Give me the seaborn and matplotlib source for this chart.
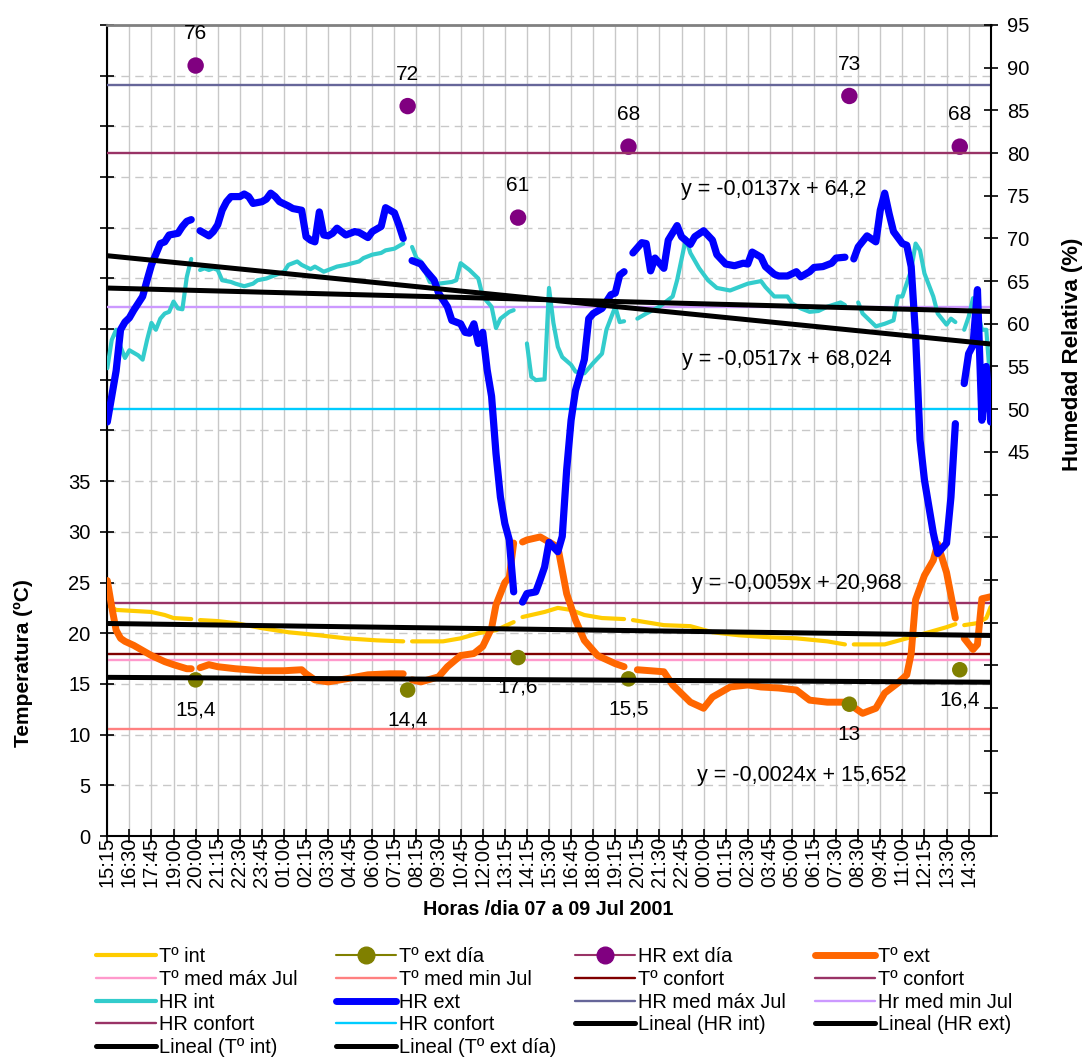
import numpy as np
import pandas as pd
import matplotlib
matplotlib.use("Agg")
import matplotlib.pyplot as plt
from matplotlib.lines import Line2D
import seaborn as sns

nan = np.nan

# ---------------- data ----------------
N_SLOTS = 201
time_labels = ['15:15', '16:30', '17:45', '19:00', '20:00', '21:15', '22:30', '23:45',
               '01:00', '02:15', '03:30', '04:45', '06:00', '07:15', '08:15', '09:30',
               '10:45', '12:00', '13:15', '14:15', '15:30', '16:45', '18:00', '19:15',
               '20:15', '21:30', '22:45', '00:00', '01:15', '02:30', '03:45', '05:00',
               '06:15', '07:30', '08:30', '09:45', '11:00', '12:15', '13:30', '14:30']

# time-slot index / value pairs (nan = blank row -> break in the line)
t_int_x = [0, 2, 6, 10, 13, 15, 19, 20, 21, 25, 29, 35, 41, 48, 54, 61, 67, 68, 69, 76, 80, 84, 88, 92,
           93, 94, 99, 102, 105, 108, 112, 117, 118, 119, 126, 132, 137, 143, 150, 156, 163, 167, 168,
           169, 176, 181, 186, 190, 192, 193, 194, 197, 199, 200]
t_int_y = [22.8, 22.3, 22.2, 22.1, 21.8, 21.5, 21.4, nan, 21.3, 21.2, 21.0, 20.5, 20.1, 19.8, 19.5, 19.3,
           19.2, nan, 19.2, 19.2, 19.5, 20.0, 20.3, 21.1, nan, 21.6, 22.1, 22.5, 22.3, 21.8, 21.5, 21.4,
           nan, 21.3, 20.8, 20.7, 20.1, 19.8, 19.6, 19.5, 19.2, 18.9, nan, 18.9, 18.9, 19.5, 20.1, 20.6,
           20.9, nan, 20.8, 21.0, 21.5, 22.6]

t_ext_x = [0, 1, 2, 3, 4, 6, 8, 10, 13, 15, 18, 19, 20,
           21, 23, 25, 29, 32, 35, 40, 44, 45, 47, 50, 54, 59, 64, 67, 68,
           69, 71, 75, 77, 80, 83, 85, 87, 88, 90, 91, 92, 93,
           94, 95, 98, 100, 102, 104, 106, 108, 111, 115, 117, 118,
           120, 126, 128, 132, 135, 137, 141, 145, 148, 152, 156, 159, 163, 167, 168,
           169, 171, 174, 176, 179, 181, 182, 183, 185, 187, 188, 190, 192, 193,
           194, 196, 197, 198, 200]
t_ext_y = [25.2, 22.6, 20.3, 19.5, 19.2, 18.8, 18.3, 17.8, 17.2, 16.9, 16.5, 16.5, nan,
           16.6, 16.9, 16.7, 16.5, 16.4, 16.3, 16.3, 16.4, 16.0, 15.4, 15.2, 15.5, 15.9, 16.0, 16.0, nan,
           15.4, 15.2, 15.7, 16.7, 17.8, 18.0, 18.7, 20.5, 22.8, 25.0, 25.5, 28.9, nan,
           29.0, 29.2, 29.5, 29.0, 28.5, 23.9, 21.3, 19.3, 17.8, 17.0, 16.7, nan,
           16.4, 16.2, 14.9, 13.2, 12.6, 13.7, 14.7, 14.9, 14.7, 14.6, 14.4, 13.4, 13.2, 13.2, nan,
           12.7, 12.1, 12.6, 14.1, 15.1, 15.9, 18.0, 23.3, 25.7, 27.2, 28.8, 26.0, 21.5, nan,
           19.5, 18.4, 18.9, 23.4, 23.6]

hr_int_x = [0, 1, 2, 3, 4, 5, 7, 8, 9, 10, 11, 12, 13, 14, 15, 16, 17, 18, 19, 20,
            21, 22, 23, 24, 25, 26, 28, 29, 31, 33, 34, 36, 38, 40, 41, 43, 44, 46, 47, 49, 50, 52,
            54, 57, 58, 60, 62, 63, 65, 66, 67, 68,
            69, 70, 71, 73, 75, 78, 79, 80, 82, 84, 85, 87, 88, 89, 91, 92, 93,
            95, 96, 97, 99, 100, 101, 102, 103, 105, 106, 108, 110, 112, 113, 115, 116, 117, 118,
            120, 122, 125, 128, 129, 131, 132, 134, 136, 138, 141, 143, 145, 148, 149, 151, 152, 154,
            155, 157, 159, 161, 163, 166, 167, 168,
            170, 171, 174, 176, 178, 179, 180, 182, 183, 184, 185, 187, 188, 190, 191, 192, 193,
            194, 195, 196, 197, 198, 199, 200]
hr_int_y = [54.8, 58.1, 59.3, 57.3, 56.0, 56.9, 56.3, 55.8, 58.1, 60.1, 59.3, 60.6, 61.2, 61.4, 62.6,
            61.8, 61.7, 65.5, 67.6, nan,
            66.3, 66.5, 66.3, 66.5, 66.3, 65.1, 64.9, 64.7, 64.4, 64.7, 65.1, 65.3, 65.7, 66.1, 66.9,
            67.3, 66.9, 66.4, 66.7, 66.1, 66.3, 66.7, 66.9, 67.3, 67.7, 68.1, 68.3, 68.6, 68.8, 69.1,
            69.4, nan,
            69.0, 67.7, 67.3, 64.9, 64.7, 64.9, 65.1, 67.1, 66.3, 65.3, 63.2, 62.0, 59.5, 60.6, 61.4,
            61.6, nan,
            57.7, 53.8, 53.4, 53.5, 64.2, 60.1, 57.3, 56.1, 55.2, 54.4, 54.2, 55.4, 56.5, 59.3, 62.0,
            60.2, 60.3, nan,
            60.6, 61.2, 62.0, 63.2, 65.1, 70.0, 68.3, 66.5, 65.1, 64.2, 63.9, 64.3, 64.7, 65.0, 64.3,
            63.2, 63.2, 63.2, 62.4, 61.8, 61.4, 61.5, 62.0, 62.5, 62.2, nan,
            62.5, 61.2, 59.7, 60.0, 60.4, 63.2, 63.2, 66.3, 69.4, 68.6, 65.9, 63.2, 61.2, 59.9, 60.6,
            60.2, nan,
            59.3, 60.8, 63.0, 61.5, 59.3, 59.3, 52.6]

hr_ext_x = [0, 2, 3, 4, 5, 6, 8, 9, 10, 12, 13, 14, 16, 17, 18, 19, 20,
            21, 22, 23, 24, 25, 26, 27, 28, 30, 31, 32, 33, 35, 36, 37, 38, 39, 41, 42, 44, 45, 46, 47,
            48, 49, 50, 51, 52, 54, 56, 57, 59, 60, 62, 63, 65, 66, 67, 68,
            69, 71, 72, 74, 75, 77, 78, 80, 81, 82, 83, 84, 85, 86, 87, 88, 89, 90, 91, 92, 93,
            94, 95, 97, 98, 99, 100, 102, 103, 104, 105, 106, 108, 109, 110, 112, 114, 115, 116, 117, 118,
            119, 121, 122, 123, 124, 125, 126, 127, 129, 130, 132, 133, 135, 137, 138, 140, 142, 144,
            145, 146, 148, 149, 151, 152, 154, 156, 157, 159, 160, 162, 164, 165, 167, 168,
            169, 170, 172, 174, 175, 176, 177, 178, 180, 181, 182, 183, 184, 185, 187, 188, 190, 191,
            192, 193,
            194, 195, 196, 197, 198, 199, 200]
hr_ext_y = [48.5, 54.5, 59.3, 60.2, 60.7, 61.6, 63.2, 65.1, 66.9, 69.4, 69.6, 70.4, 70.6, 71.4, 72.0,
            72.2, nan,
            70.9, 70.6, 70.3, 70.8, 71.6, 73.3, 74.3, 74.9, 74.9, 75.2, 74.9, 74.1, 74.3, 74.6, 75.3,
            74.9, 74.3, 73.8, 73.5, 73.3, 70.2, 69.8, 69.6, 73.1, 70.4, 70.3, 70.6, 71.2, 70.4, 70.8,
            70.7, 70.1, 70.8, 71.4, 73.6, 73.0, 71.6, 70.0, nan,
            67.4, 67.0, 66.3, 65.1, 63.6, 62.0, 60.4, 60.0, 59.0, 58.9, 60.0, 57.7, 59.0, 54.6, 51.5,
            44.8, 39.7, 36.6, 34.7, 28.6, nan,
            27.4, 28.4, 28.6, 30.0, 31.5, 34.4, 33.3, 35.1, 42.9, 48.7, 52.2, 55.8, 60.6, 61.2, 61.8,
            63.4, 63.6, 65.7, 66.1, nan,
            68.3, 69.5, 69.4, 66.2, 67.7, 67.1, 66.5, 69.8, 71.5, 70.2, 69.3, 70.2, 70.9, 69.8, 68.1,
            67.0, 66.8, 67.1, 67.0, 68.4, 67.8, 66.7, 65.8, 65.6, 65.6, 66.1, 65.5, 66.1, 66.6, 66.7,
            67.1, 67.7, 67.8, nan,
            67.6, 69.0, 70.3, 69.6, 73.3, 75.3, 72.9, 70.8, 69.4, 69.2, 66.7, 58.5, 46.4, 41.7, 35.5,
            33.1, 34.3, 39.7, 48.3, nan,
            53.0, 56.5, 57.5, 64.0, 48.7, 55.0, 48.5]

day_x = [20, 68, 93, 118, 168, 193]
t_ext_dia = [15.4, 14.4, 17.6, 15.5, 13, 16.4]
hr_ext_dia = [76, 72, 61, 68, 73, 68]

t_med_max_jul = 17.4
t_med_min_jul = 10.6
t_confort = [18, 23]
hr_med_max_jul = 88
hr_med_min_jul = 62
hr_confort = [80, 50]

trend_hr_int = (-0.0137, 64.2)
trend_hr_ext = (-0.0517, 68.024)
trend_t_int = (-0.0059, 20.968)
trend_t_ext_dia = (-0.0024, 15.652)

# ---------------- style ----------------
W, H, DPI = 1086, 1061, 100
sns.set_theme(style="white")
plt.rcParams["font.family"] = ["Liberation Sans", "DejaVu Sans"]
plt.rcParams["text.color"] = "black"
plt.rcParams["axes.labelcolor"] = "black"

FS_TICK = 14.5
FS_LEG = 14.4
FS_EQ = 15.5
FS_DL = 15.0
FS_XLAB = 14.2
FS_YLAB = 15.0
FS_YLAB2 = 16.0

C_TINT = "#FFCC00"
C_TEXT = "#FF6600"
C_HRINT = "#33CCCC"
C_HREXT = "#0000FF"
C_OLIVE = "#808000"
C_PURPLE = "#800080"

fig = plt.figure(figsize=(W / DPI, H / DPI), dpi=DPI)
fig.patch.set_facecolor("white")
L, R, T, B = 107.3, 990.7, 25.0, 836.0
ax = fig.add_axes([L / W, 1 - B / H, (R - L) / W, (B - T) / H])
ax2 = ax.twinx()
ax.set_facecolor("white")


def series_df(x, y):
    df = pd.DataFrame({"slot": x, "val": y})
    df["seg"] = df["val"].isna().cumsum()
    return df.dropna()


def draw(axis, x, y, color, lw, z):
    df = series_df(x, y)
    sns.lineplot(data=df, x="slot", y="val", units="seg", estimator=None, sort=False,
                 ax=axis, color=color, lw=lw, zorder=z, legend=False,
                 solid_capstyle="round", solid_joinstyle="round")


# reference lines
REF_LW = 1.7
ax.axhline(t_med_max_jul, color="#FF99CC", lw=REF_LW, zorder=1)
ax.axhline(t_med_min_jul, color="#FF8080", lw=REF_LW, zorder=1)
ax.axhline(t_confort[0], color="#800000", lw=REF_LW, zorder=1)
ax.axhline(t_confort[1], color="#993366", lw=REF_LW, zorder=1)
ax2.axhline(hr_med_max_jul, color="#666699", lw=REF_LW, zorder=1)
ax2.axhline(hr_med_min_jul, color="#CC99FF", lw=REF_LW, zorder=1)
ax2.axhline(hr_confort[0], color="#993366", lw=REF_LW, zorder=1)
ax2.axhline(hr_confort[1], color="#00CCFF", lw=REF_LW, zorder=1)

# main series
draw(ax, t_int_x, t_int_y, C_TINT, 3.0, 2)
draw(ax, t_ext_x, t_ext_y, C_TEXT, 5.0, 3)
draw(ax2, hr_int_x, hr_int_y, C_HRINT, 3.0, 2)
draw(ax2, hr_ext_x, hr_ext_y, C_HREXT, 5.2, 3)

# daily points
sns.scatterplot(x=day_x, y=t_ext_dia, ax=ax, color=C_OLIVE, s=125, edgecolor="none",
                zorder=5, legend=False)
sns.scatterplot(x=day_x, y=hr_ext_dia, ax=ax, color=C_PURPLE, s=140, edgecolor="none",
                zorder=5, legend=False)
for xv, v in zip(day_x, t_ext_dia):
    ax.annotate(f"{v:g}".replace(".", ","), (xv, v), xytext=(0, -21.5), textcoords="offset points",
                ha="center", va="center", fontsize=FS_DL, zorder=7)
for xv, v in zip(day_x, hr_ext_dia):
    ax.annotate(f"{v:g}".replace(".", ","), (xv, v), xytext=(0, 23), textcoords="offset points",
                ha="center", va="center", fontsize=FS_DL, zorder=7)

# trend lines (linear, Excel x = slot + 1)
slots = np.arange(N_SLOTS)
TR_LW = 3.6
for axis, (a, b) in [(ax, trend_t_int), (ax, trend_t_ext_dia), (ax2, trend_hr_int), (ax2, trend_hr_ext)]:
    sns.lineplot(x=slots, y=a * (slots + 1) + b, ax=axis, color="black", lw=TR_LW, zorder=6,
                 legend=False)

# ---------------- axes ----------------
ax.set_xlim(0, N_SLOTS - 1)
ax.set_ylim(0, 80)
ax2.set_ylim(0, 95)

xt = np.arange(0, 5 * len(time_labels), 5)
ax.set_xticks(xt)
ax.set_xticklabels(time_labels, rotation=90, fontsize=FS_TICK)

yt = np.arange(0, 81, 5)
ax.set_yticks(yt)
ax.set_yticklabels([str(v) if v <= 35 else "" for v in yt], fontsize=FS_TICK)
yt2 = np.arange(0, 96, 5)
ax2.set_yticks(yt2)
ax2.set_yticklabels([str(v) if v >= 45 else "" for v in yt2], fontsize=FS_TICK)

ax.tick_params(axis="x", bottom=True, direction="inout", length=10, width=1.2, color="black",
               pad=-4.5, labelcolor="black")
ax.tick_params(axis="y", left=True, right=False, direction="inout", length=10, width=1.2,
               color="black", pad=7, labelcolor="black")
ax2.tick_params(axis="y", right=True, left=False, direction="inout", length=10, width=1.2,
                color="black", pad=7, labelcolor="black")

ax.grid(False)
ax2.grid(False)
ax.xaxis.grid(True, color="#C8C8C8", lw=1.0, ls="-", zorder=0)
ax.yaxis.grid(True, color="#C8C8C8", lw=1.0, ls=(0, (6, 4)), zorder=0)
ax.set_axisbelow(True)

for s in ["left", "bottom"]:
    ax.spines[s].set_color("black")
    ax.spines[s].set_linewidth(1.5)
    ax.spines[s].set_visible(True)
ax.spines["right"].set_visible(False)
ax.spines["top"].set_color("#808080")
ax.spines["top"].set_linewidth(2.0)
ax2.spines["right"].set_visible(True)
ax2.spines["right"].set_color("black")
ax2.spines["right"].set_linewidth(1.5)
for s in ["left", "bottom", "top"]:
    ax2.spines[s].set_visible(False)

ax.set_xlabel("Horas /dia 07 a 09 Jul 2001", fontsize=FS_XLAB, fontweight="bold")
ax.xaxis.set_label_coords((548 - L) / (R - L), (B - 900) / (B - T))
ax.set_ylabel("Temperatura (ºC)", fontsize=FS_YLAB, fontweight="bold")
ax.yaxis.set_label_coords((33 - L) / (R - L), (B - 663) / (B - T))
ax2.set_ylabel("Humedad Relativa (%)", fontsize=FS_YLAB2, fontweight="bold")
ax2.yaxis.set_label_coords((1062 - L) / (R - L), (B - 354) / (B - T))

# trend equations
eqs = [(trend_hr_int, 681, 190), (trend_hr_ext, 682, 359), (trend_t_int, 692, 583), (trend_t_ext_dia, 697, 775)]
for (a, b), px, py in eqs:
    txt = f"y = {a:.4f}x + {b:g}".replace(".", ",")
    fig.text(px / W, 1 - py / H, txt, ha="left", va="center", fontsize=FS_EQ)

# ---------------- legend ----------------
def ln(color, lw, marker=None, mfc=None):
    if marker:
        return Line2D([], [], color=color, lw=lw, marker=marker, markersize=12,
                      markerfacecolor=mfc, markeredgecolor=mfc)
    return Line2D([], [], color=color, lw=lw, solid_capstyle="round")

columns = [
    [(ln(C_TINT, 3.0), "Tº int"), (ln("#FF99CC", REF_LW), "Tº med máx Jul"),
     (ln(C_HRINT, 3.0), "HR int"), (ln("#993366", REF_LW), "HR confort"),
     (ln("black", TR_LW), "Lineal (Tº int)")],
    [(ln(C_OLIVE, 1.5, "o", C_OLIVE), "Tº ext día"), (ln("#FF8080", REF_LW), "Tº med min Jul"),
     (ln(C_HREXT, 5.0), "HR ext"), (ln("#00CCFF", REF_LW), "HR confort"),
     (ln("black", TR_LW), "Lineal (Tº ext día)")],
    [(ln("#993366", 1.5, "o", C_PURPLE), "HR ext día"), (ln("#800000", REF_LW), "Tº confort"),
     (ln("#666699", REF_LW), "HR med máx Jul"), (ln("black", TR_LW), "Lineal (HR int)")],
    [(ln(C_TEXT, 5.0), "Tº ext"), (ln("#993366", REF_LW), "Tº confort"),
     (ln("#CC99FF", REF_LW), "Hr med min Jul"), (ln("black", TR_LW), "Lineal (HR ext)")],
]
col_px = [96, 336, 575, 815]
hl_px = 60.0
fs_px = FS_LEG * DPI / 72
for items, px in zip(columns, col_px):
    fig.legend([h for h, _ in items], [t for _, t in items], loc="upper left",
               bbox_to_anchor=(px / W, 1 - 947 / H), frameon=False, fontsize=FS_LEG,
               handlelength=hl_px / fs_px, handletextpad=3.0 / fs_px, labelspacing=0.19,
               borderpad=0, borderaxespad=0)

fig.savefig("out.png", dpi=DPI, facecolor="white")
